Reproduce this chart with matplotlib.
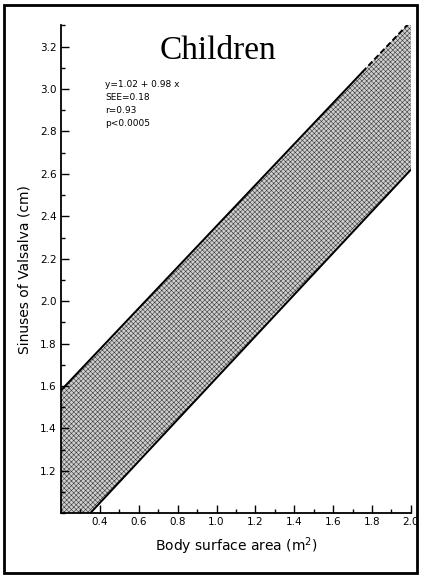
import numpy as np
import matplotlib.pyplot as plt
from matplotlib.patches import Rectangle
from matplotlib.ticker import MultipleLocator

# band edges
upper_x = [0.2, 1.75, 2.0]
upper_y = [1.58, 3.08, 3.32]
lower_x = [0.2, 0.35, 2.0]
lower_y = [1.0, 1.0, 2.62]

x_ticks = [0.4, 0.6, 0.8, 1.0, 1.2, 1.4, 1.6, 1.8, 2.0]
y_ticks = [1.2, 1.4, 1.6, 1.8, 2.0, 2.2, 2.4, 2.6, 2.8, 3.0, 3.2]

stats_lines = ["y=1.02 + 0.98 x", "SEE=0.18", "r=0.93", "p<0.0005"]

plt.rcParams["hatch.linewidth"] = 0.4
plt.rcParams["hatch.color"] = "#3a3a3a"

fig = plt.figure(figsize=(4.21, 5.78), dpi=100)
ax = fig.add_axes([0.145, 0.112, 0.831, 0.844])

xs = np.array([0.2, 0.35, 1.75, 2.0])
up = np.interp(xs, upper_x, upper_y)
lo = np.interp(xs, lower_x, lower_y)
ax.fill_between(xs, lo, up, facecolor="#cfcfcf", edgecolor="none", hatch="xxxxxxx", lw=0)

ax.plot(upper_x[:2], upper_y[:2], color="black", lw=1.4)
ax.plot(upper_x[1:], upper_y[1:], color="black", lw=1.4, ls=(0, (3, 1.5)))
ax.plot(lower_x[1:], lower_y[1:], color="black", lw=1.4)

ax.set_xlim(0.2, 2.0)
ax.set_ylim(1.0, 3.3)
ax.set_xticks(x_ticks)
ax.set_yticks(y_ticks)
ax.set_xticklabels([f"{v:.1f}" for v in x_ticks])
ax.set_yticklabels([f"{v:.1f}" for v in y_ticks])
ax.xaxis.set_minor_locator(MultipleLocator(0.1))
ax.yaxis.set_minor_locator(MultipleLocator(0.1))
ax.tick_params(which="major", direction="in", length=6, width=1, labelsize=7.5, pad=3)
ax.tick_params(which="minor", direction="in", length=3, width=1)

for s in ["top", "right"]:
    ax.spines[s].set_visible(False)
for s in ["left", "bottom"]:
    ax.spines[s].set_linewidth(1.3)

ax.set_xlabel("Body surface area (m$^2$)", fontsize=10, labelpad=6)
ax.set_ylabel("Sinuses of Valsalva (cm)", fontsize=10, labelpad=6)

fig.text(0.518, 0.913, "Children", family="Liberation Serif", fontsize=24, ha="center", va="center")

for i, line in enumerate(stats_lines):
    fig.text(0.25, 0.853 - i * 0.022, line, fontsize=6.5, ha="left", va="center")

fig.patches.append(Rectangle((0.01, 0.008), 0.98, 0.984, transform=fig.transFigure,
                             fill=False, edgecolor="black", lw=2))

fig.savefig("out.png", dpi=100)
